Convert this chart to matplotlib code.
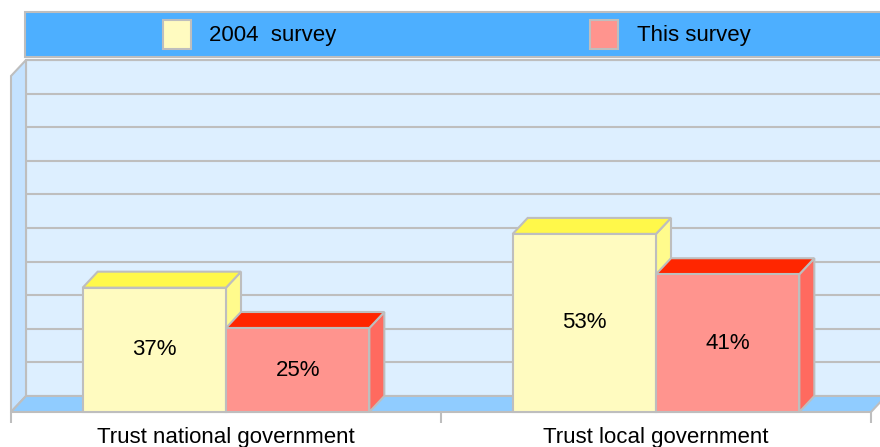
import matplotlib
matplotlib.use("Agg")
import matplotlib.pyplot as plt
from matplotlib.patches import Polygon, Rectangle
import numpy as np

plt.rcParams['font.family'] = ['Liberation Sans', 'DejaVu Sans']

# Data
categories = ["Trust national government", "Trust local government"]
series_names = ["2004  survey", "This survey"]
survey_2004 = [37, 53]
survey_this = [25, 41]
value_labels_2004 = ["37%", "53%"]
value_labels_this = ["25%", "41%"]

# Styling
front_colors = ["#FFFBC0", "#FF948E"]
top_colors = ["#FFF84A", "#FF2600"]
side_colors = ["#FFFB8C", "#FF6A5F"]
edge = "#BEBEBE"
wall_color = "#DDEFFF"
side_wall_color = "#C4E2FF"
floor_color = "#90CCFF"
band_color = "#4DAFFF"
lw = 1.5

W, H = 880, 447
fig = plt.figure(figsize=(W / 100, H / 100), dpi=100)
fig.patch.set_facecolor("white")

# Front plane of the 3D box: value 0 at the front floor edge, 100 at the top
ax = fig.add_axes([11 / W, 35 / H, 860 / W, 336 / H])
ax.set_xlim(-0.5, 1.5)
ax.set_ylim(0, 100)
ax.set_facecolor("none")
for s in ax.spines.values():
    s.set_visible(False)

# Depth offset of the box (pixels -> data units)
fig.canvas.draw()
origin = ax.transData.transform((0, 0))
ddx, ddy = ax.transData.inverted().transform(origin + np.array([15, 16])) - \
    ax.transData.inverted().transform(origin)

x0, x1 = -0.5, 1.5

def poly(pts, fc, z):
    p = Polygon(pts, closed=True, facecolor=fc, edgecolor=edge, lw=lw,
                zorder=z, clip_on=False, joinstyle="miter")
    ax.add_patch(p)

# Back wall
poly([(x0 + ddx, ddy), (x1 + ddx, ddy), (x1 + ddx, 100 + ddy), (x0 + ddx, 100 + ddy)],
     wall_color, 0.5)
# Gridlines on back wall
for v in range(10, 101, 10):
    ax.plot([x0 + ddx, x1 + ddx], [v + ddy, v + ddy], color=edge, lw=lw,
            zorder=0.6, clip_on=False, solid_capstyle="butt")
# Left wall
poly([(x0, 0), (x0 + ddx, ddy), (x0 + ddx, 100 + ddy), (x0, 100)], side_wall_color, 0.7)
# Floor
poly([(x0, 0), (x1, 0), (x1 + ddx, ddy), (x0 + ddx, ddy)], floor_color, 0.8)

# 3D bars
bw = 1 / 3
xc = np.arange(len(categories))
z = 2
for i in range(len(categories)):
    for j, vals in enumerate([survey_2004, survey_this]):
        v = vals[i]
        left = xc[i] - bw + j * bw
        right = left + bw
        poly([(right, 0), (right + ddx, ddy), (right + ddx, v + ddy), (right, v)],
             side_colors[j], z)
        poly([(left, v), (right, v), (right + ddx, v + ddy), (left + ddx, v + ddy)],
             top_colors[j], z)
        ax.bar(left, v, width=bw, align="edge", color=front_colors[j],
               edgecolor=edge, lw=lw, zorder=z + 0.1, clip_on=False)
        lab = [value_labels_2004, value_labels_this][j][i]
        ax.text(left + bw / 2, v / 2, lab, ha="center", va="center",
                fontsize=16, zorder=z + 0.2)
        z += 1

# Category axis: ticks at boundaries, labels at centers
ax.set_xticks([-0.5, 0.5, 1.5])
ax.set_xticklabels([])
ax.set_xticks(xc, minor=True)
ax.set_xticklabels(categories, minor=True, fontsize=16)
ax.tick_params(axis="x", which="major", length=8, width=lw, color=edge)
ax.tick_params(axis="x", which="minor", length=0, pad=11)
ax.set_yticks([])

# Legend band
fig.patches.append(Rectangle((25 / W, (H - 57) / H), 870 / W, 45 / H,
                             transform=fig.transFigure, facecolor=band_color,
                             edgecolor=edge, lw=lw, zorder=5))
sw_x = [163, 590]
tx_x = [209, 637]
for k in range(2):
    fig.patches.append(Rectangle((sw_x[k] / W, (H - 49) / H), 28 / W, 29 / H,
                                 transform=fig.transFigure, facecolor=front_colors[k],
                                 edgecolor=edge, lw=lw, zorder=6))
    fig.text(tx_x[k] / W, (H - 35) / H, series_names[k], fontsize=16,
             ha="left", va="center", zorder=7)

fig.savefig("out.png", dpi=100)
